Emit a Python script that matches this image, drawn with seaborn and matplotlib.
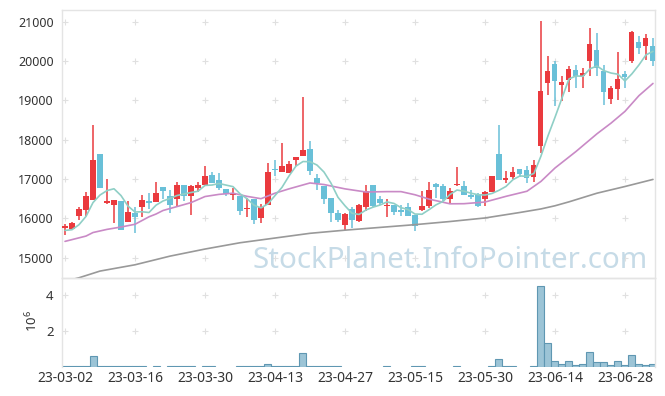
import numpy as np
import pandas as pd
import matplotlib
matplotlib.use("Agg")
import matplotlib.pyplot as plt
import seaborn as sns

# ---------------- data ----------------
holidays = ["2023-05-01", "2023-05-05", "2023-05-29", "2023-06-06"]
dates = [d for d in pd.bdate_range("2023-03-02", "2023-07-04") if d.strftime("%Y-%m-%d") not in holidays]

opens = [15745, 15730, 16068, 16220, 16474, 17644, 16380, 16330, 16431, 15898,
         16136, 16279, 16431, 16406, 16797, 16559, 16492, 16848, 16576, 16762,
         16848, 17110, 16983, 16755, 16601, 16559, 16245, 16500, 16009, 16330,
         17262, 17178, 17153, 17491, 17575, 17771, 17026, 16830, 16517, 16136,
         15839, 16245, 15923, 16288, 16848, 16492, 16305, 16347, 16220, 16288,
         16093, 16220, 16305, 16881, 16813, 16492, 16838, 16813, 16601, 16601,
         16500, 16660, 17644, 16983, 17041, 17253, 17237, 17051, 17829, 19441,
         19932, 19380, 19525, 19780, 19627, 19991, 20287, 19738, 19042, 19288,
         19677, 19991, 20483, 20372, 20389]
highs = [15864, 15897, 16279, 16660, 18381, 17644, 17000, 16474, 16431, 16431,
         16279, 16584, 16645, 16914, 16797, 16711, 16914, 16848, 16856, 16914,
         17321, 17168, 17153, 16755, 16772, 16559, 16517, 16500, 16373, 17407,
         17473, 17916, 17448, 17550, 19085, 17957, 17135, 16830, 16517, 16220,
         16136, 16288, 16373, 16848, 16860, 16559, 16492, 16347, 16330, 16390,
         16093, 16685, 16914, 16899, 16881, 16772, 17306, 16940, 16711, 16645,
         16685, 17084, 18381, 17194, 17306, 17253, 17339, 17473, 21006, 20134,
         19991, 19610, 19864, 19906, 19822, 20839, 20711, 19906, 19372, 20219,
         19738, 20770, 20643, 20694, 20584]
lows = [15585, 15694, 15948, 16050, 16474, 16772, 16373, 15882, 15712, 15898,
        15628, 16035, 16245, 16406, 16492, 16136, 16305, 16431, 16093, 16670,
        16848, 16899, 16711, 16559, 16474, 16075, 16035, 15864, 15882, 16330,
        17067, 17178, 17153, 17321, 17575, 17110, 16711, 16373, 15898, 15898,
        15694, 15755, 15898, 16177, 16290, 16347, 16035, 16093, 16068, 16068,
        15669, 16177, 16263, 16517, 16431, 16390, 16813, 16584, 16492, 16288,
        16305, 16660, 16983, 16899, 17008, 17051, 16899, 16914, 17661, 19143,
        18864, 18974, 19212, 19313, 19313, 19627, 19627, 18889, 18915, 19017,
        19313, 19953, 20178, 20016, 19863]
closes = [15813, 15882, 16245, 16576, 17491, 16772, 16449, 16474, 15712, 16152,
          16025, 16474, 16380, 16645, 16685, 16347, 16848, 16576, 16830, 16848,
          17084, 16899, 16772, 16627, 16652, 16177, 16271, 15948, 16288, 17168,
          17219, 17321, 17389, 17550, 17745, 17194, 16899, 16500, 16136, 15948,
          16118, 15948, 16347, 16703, 16305, 16390, 16347, 16152, 16169, 16068,
          15813, 16322, 16729, 16787, 16500, 16703, 16881, 16584, 16533, 16305,
          16660, 17084, 16983, 17026, 17168, 17135, 17026, 17364, 19229, 19738,
          19483, 19474, 19797, 19610, 19695, 20440, 19822, 19204, 19313, 19542,
          19584, 20737, 20330, 20584, 19991]
volumes_m = [0.03, 0.03, 0.03, 0.03, 0.63, 0.08, 0.03, 0.03, 0.03, 0.03,
             0.03, 0.03, 0.0, 0.03, 0.0, 0.03, 0.03, 0.03, 0.03, 0.0,
             0.03, 0.03, 0.0, 0.0, 0.0, 0.03, 0.03, 0.03, 0.03, 0.15,
             0.03, 0.08, 0.03, 0.03, 0.76, 0.03, 0.03, 0.03, 0.03, 0.03,
             0.0, 0.0, 0.0, 0.0, 0.0, 0.0, 0.03, 0.0, 0.0, 0.0,
             0.03, 0.03, 0.0, 0.0, 0.0, 0.0, 0.03, 0.0, 0.0, 0.0,
             0.0, 0.03, 0.43, 0.03, 0.03, 0.0, 0.0, 0.03, 4.5, 1.32,
             0.32, 0.15, 0.32, 0.09, 0.15, 0.81, 0.26, 0.26, 0.09, 0.32,
             0.09, 0.65, 0.15, 0.09, 0.15]

# moving averages: first MA5 values and MA20 / MA60
ma5_head = [15694, 15712, 15839, 16050]
ma20_idx = [0, 3, 4, 6, 8, 10, 12, 13, 14, 16, 18, 20, 22, 24, 26, 28, 30, 32, 35, 37,
            40, 43, 46, 48, 50, 52, 55, 57, 60, 63, 66, 68, 70, 73, 76, 78, 80, 82, 84]
ma20_val = [15415, 15550, 15640, 15720, 15780, 15850, 16040, 16110, 16200, 16300,
            16400, 16555, 16610, 16640, 16560, 16500, 16640, 16750, 16900, 16860,
            16750, 16670, 16680, 16680, 16600, 16490, 16370, 16373, 16415, 16560,
            16690, 16940, 17280, 17700, 18150, 18420, 18720, 19120, 19430]
ma60_idx = [0, 2, 5, 10, 15, 20, 25, 30, 35, 40, 45, 50, 55, 60, 65, 68, 70, 72, 76, 80, 84]
ma60_val = [14400, 14490, 14660, 14820, 15040, 15220, 15380, 15500, 15620, 15700,
            15770, 15840, 15920, 16010, 16150, 16240, 16320, 16420, 16640, 16810, 16990]

price_ticks = [15000, 16000, 17000, 18000, 19000, 20000, 21000]
vol_ticks = [2, 4]

# ---------------- styling ----------------
sns.set_style("white")
plt.rcParams["font.family"] = ["Noto Sans", "DejaVu Sans"]
plt.rcParams["mathtext.default"] = "regular"

RED = "#ea3a3e"
BLUE = "#69c0d8"
C_MA5 = "#8fcfc6"
C_MA20 = "#c98ac6"
C_MA60 = "#999999"
SPINE = "#e4e4e4"
TXT = "#333333"

n = len(closes)
idx = np.arange(n)
df = pd.DataFrame({"i": idx, "open": opens, "high": highs, "low": lows,
                   "close": closes, "vol": np.array(volumes_m) * 1e6})
df["up"] = df["close"] >= df["open"]
ma5 = df["close"].rolling(5).mean().to_numpy()
ma5[:4] = ma5_head
df["ma5"] = ma5

fig = plt.figure(figsize=(6.65, 3.96), dpi=100)
L, R = 62 / 665, 655 / 665
ax = fig.add_axes([L, 1 - 278 / 396, R - L, (278 - 10) / 396])
ax2 = fig.add_axes([L, 1 - 367 / 396, R - L, (367 - 278) / 396], sharex=ax)
ax2.patch.set_alpha(0)

xlim = (-0.43, 84.29)

# grid crosses
xt = idx[::10]
gx, gy = np.meshgrid(xt, price_ticks)
sns.scatterplot(x=gx.ravel(), y=gy.ravel(), marker="+", s=16, color="#e0e0e0",
                linewidth=0.8, ax=ax, zorder=0, legend=False)
gx2, gy2 = np.meshgrid(xt, np.array(vol_ticks) * 1e6)
sns.scatterplot(x=gx2.ravel(), y=gy2.ravel(), marker="+", s=16, color="#e0e0e0",
                linewidth=0.8, ax=ax2, zorder=0, legend=False)

# watermark
ax.text(0.655, 0.037, "StockPlanet.InfoPointer.com", transform=ax.transAxes,
        ha="center", va="baseline", fontsize=21.3, color="#c6dbe7", zorder=0.5)

# candles
colors = np.where(df["up"], RED, BLUE)
ax.vlines(df["i"], df["low"], df["high"], colors=colors, linewidth=1.1, zorder=2)
body_lo = np.minimum(df["open"], df["close"])
body_h = np.maximum(np.abs(df["close"] - df["open"]), 25)
ax.bar(df["i"], body_h, bottom=body_lo, width=0.72, color=colors, linewidth=0, zorder=3)

# moving averages
sns.lineplot(x=ma60_idx, y=ma60_val, ax=ax, color=C_MA60, linewidth=1.2, zorder=4)
sns.lineplot(x=ma20_idx, y=ma20_val, ax=ax, color=C_MA20, linewidth=1.2, zorder=4)
sns.lineplot(x=df["i"], y=df["ma5"], ax=ax, color=C_MA5, linewidth=1.2, zorder=4)

# volume
vdf = df[df["vol"] > 0]
sns.barplot(x=vdf["i"], y=vdf["vol"], native_scale=True, width=1.0, ax=ax2,
            color="#9cc4d6", edgecolor="#5f97b2", linewidth=0.8, saturation=1,
            errorbar=None)

# axes setup
ax.set_xlim(*xlim)
ax.set_ylim(14484, 21297)
ax2.set_ylim(0, 4.94e6)
ax.set_yticks(price_ticks)
ax.set_yticklabels([str(t) for t in price_ticks])
ax2.set_yticks(np.array(vol_ticks) * 1e6)
ax2.set_yticklabels([str(t) for t in vol_ticks])
ax2.set_xticks(xt)
ax2.set_xticklabels([dates[k].strftime("%y-%m-%d") for k in xt])
ax.tick_params(axis="x", which="both", length=0, labelbottom=False)
ax.tick_params(axis="y", length=0, pad=6, labelsize=9, labelcolor=TXT)
ax2.tick_params(axis="y", length=0, pad=6, labelsize=9.5, labelcolor=TXT)
ax2.tick_params(axis="x", length=0, pad=3, labelsize=10, labelcolor=TXT)
ax.set_xlabel("")
ax.set_ylabel("")
ax2.set_xlabel("")
ax2.set_ylabel("")
ax2.set_xlim(*xlim)

for s in ax.spines.values():
    s.set_color(SPINE)
    s.set_linewidth(1)
for k, s in ax2.spines.items():
    s.set_color(SPINE)
    s.set_linewidth(1)
ax2.spines["bottom"].set_visible(False)

fig.text(32 / 665, 1 - 321 / 396, "10$^6$", rotation=90, ha="center", va="center",
         fontsize=9.5, color=TXT)

fig.savefig("out.png", dpi=100)
